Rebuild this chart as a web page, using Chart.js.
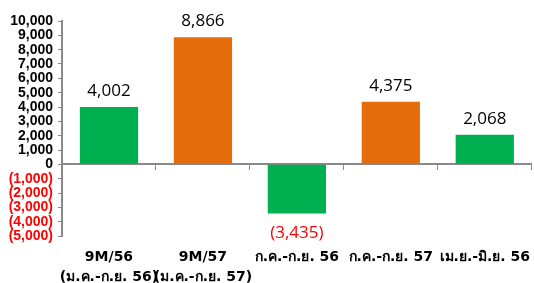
<!DOCTYPE html>
<html>
<head>
<meta charset="utf-8">
<script src="https://cdn.jsdelivr.net/npm/chart.js@4"></script>
<style>
  body { margin: 0; background: #fff; }
</style>
</head>
<body>
<canvas id="chart" width="534" height="283"></canvas>
<script>
// ข้อมูลกราฟ
const categories = [
    ["9M/56", "(ม.ค.-ก.ย. 56)"],
    ["9M/57", "(ม.ค.-ก.ย. 57)"],
    "ก.ค.-ก.ย. 56",
    "ก.ค.-ก.ย. 57",
    "เม.ย.-มิ.ย. 56"
];
const values = [4002, 8866, -3435, 4375, 2068];
const barColors = ["#00b050", "#e46c0a", "#00b050", "#e46c0a", "#00b050"];
const yMin = -5000;
const yMax = 10000;
const yStep = 1000;

const axisGray = "#898989";

// รูปแบบตัวเลข: ค่าติดลบในวงเล็บ
function fmt(v) {
    const s = Math.abs(v).toLocaleString("en-US");
    return v < 0 ? "(" + s + ")" : s;
}

// ป้ายค่าบนแท่ง
const valueLabels = {
    id: "valueLabels",
    afterDatasetsDraw(chart) {
        const ctx = chart.ctx;
        const meta = chart.getDatasetMeta(0);
        ctx.save();
        ctx.font = "17px 'Open Sans'";
        ctx.textAlign = "center";
        ctx.textBaseline = "alphabetic";
        meta.data.forEach((bar, i) => {
            const v = values[i];
            if (v >= 0) {
                ctx.fillStyle = "#000";
                ctx.fillText(fmt(v), bar.x, bar.y - 11);
            } else {
                ctx.fillStyle = "#ff0000";
                ctx.fillText(fmt(v), bar.x, bar.y + 24);
            }
        });
        ctx.restore();
    }
};

const chart = new Chart(document.getElementById("chart"), {
    type: "bar",
    data: {
        labels: categories,
        datasets: [{
            data: values,
            backgroundColor: barColors,
            borderWidth: 0,
            barPercentage: 0.62,
            categoryPercentage: 1
        }]
    },
    options: {
        responsive: false,
        animation: false,
        layout: { padding: { top: 21, right: 0, left: 0, bottom: 0 } },
        plugins: {
            legend: { display: false },
            tooltip: { enabled: false }
        },
        scales: {
            x: {
                position: "bottom",
                grid: { display: false },
                border: { display: false },
                ticks: {
                    color: "#000",
                    padding: 4,
                    maxRotation: 0,
                    autoSkip: false,
                    font: { family: "'DejaVu Sans'", size: 14, weight: "bold", lineHeight: 1.4 }
                },
                afterFit(scale) { scale.height = 47; }
            },
            x0: {
                type: "category",
                labels: categories,
                position: { y: 0 },
                offset: true,
                ticks: { display: false },
                grid: {
                    offset: true,
                    drawOnChartArea: false,
                    drawTicks: true,
                    tickLength: 5,
                    color: axisGray,
                    lineWidth: 1
                },
                border: { color: axisGray, width: 2 }
            },
            y: {
                min: yMin,
                max: yMax,
                ticks: {
                    stepSize: yStep,
                    autoSkip: false,
                    padding: 5,
                    callback: (v) => fmt(v),
                    color: (c) => c.tick.value < 0 ? "#ff0000" : "#000",
                    font: { family: "'Liberation Sans'", size: 14, weight: "bold" }
                },
                grid: {
                    drawOnChartArea: false,
                    drawTicks: true,
                    tickLength: 4,
                    color: axisGray
                },
                border: { color: axisGray, width: 2 },
                afterFit(scale) { scale.width = 62; }
            }
        }
    },
    plugins: [valueLabels]
});
</script>
</body>
</html>
